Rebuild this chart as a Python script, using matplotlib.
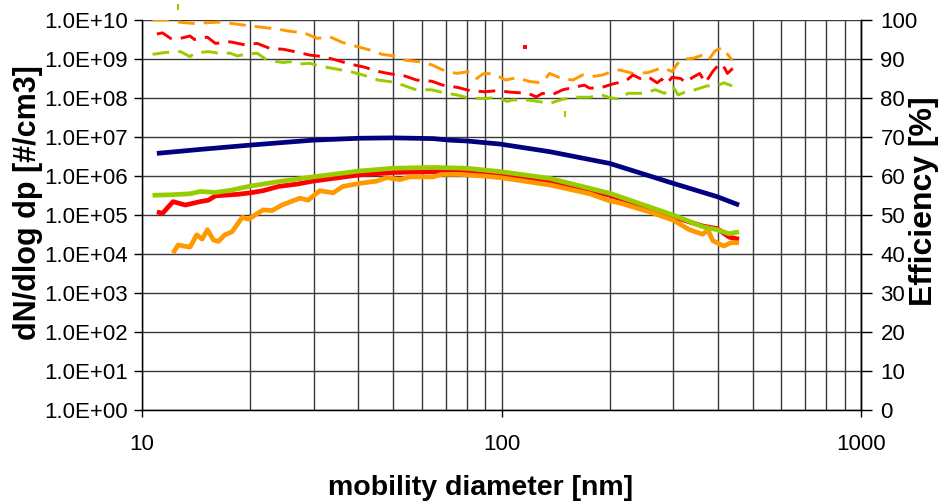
import matplotlib
matplotlib.use("Agg")
import matplotlib.pyplot as plt
from matplotlib.ticker import FixedLocator, FixedFormatter, NullFormatter

plt.rcParams['font.family'] = ['Liberation Sans', 'DejaVu Sans']
plt.rcParams['lines.scale_dashes'] = False

# ---------------- data ----------------
# Size distributions (left axis, dN/dlog dp)
navy_d = [11.0, 14.5, 20.0, 29.9, 40.4, 49.9, 64.5, 71.8, 80.1, 99.0, 136.2, 200, 300, 398, 458]
navy_n = [3.8e6, 4.8e6, 6.2e6, 8.3e6, 9.3e6, 9.5e6, 9.1e6, 8.3e6, 7.9e6, 6.6e6, 4.2e6, 2.1e6, 6.5e5, 2.95e5, 1.8e5]

green_d = [10.7, 12.0, 13.6, 14.5, 16.0, 17.6, 20.0, 24.0, 29.9, 40.4, 49.9, 64.5, 80.1, 99.0, 136.2, 200, 300, 363, 398, 430, 458]
green_n = [3.2e5, 3.3e5, 3.5e5, 4.0e5, 3.8e5, 4.3e5, 5.5e5, 7.2e5, 9.5e5, 1.35e6, 1.58e6, 1.66e6, 1.58e6, 1.3e6, 8.7e5, 3.6e5, 1.0e5, 5.0e4, 4.2e4, 3.3e4, 3.7e4]

red_d = [11.0, 11.4, 12.2, 13.2, 14.5, 15.3, 16.0, 18.5, 20.0, 21.7, 24.0, 27.0, 29.9, 40.4, 49.9, 64.5, 80.1, 99.0, 136.2, 200, 300, 363, 398, 430, 458]
red_n = [1.2e5, 1.1e5, 2.2e5, 1.8e5, 2.2e5, 2.4e5, 3.1e5, 3.4e5, 3.7e5, 4.2e5, 5.4e5, 6.2e5, 7.4e5, 1.07e6, 1.23e6, 1.29e6, 1.23e6, 1.0e6, 7.5e5, 3.2e5, 9.0e4, 5.2e4, 4.5e4, 2.7e4, 2.4e4]

orange_d = [12.2, 12.6, 13.6, 14.2, 14.7, 15.2, 15.8, 16.3, 17.0, 17.8, 19.0, 19.8, 21.7, 23.0, 24.5, 27.5, 29.0, 31.2, 34.0, 36.2, 40.4, 45.0, 48.0, 52.2, 55.6, 64.5, 68.0, 76.7, 88.8, 99.0, 136.2, 176, 200, 215, 258, 300, 333, 363, 375, 387, 415, 435, 458]
orange_n = [1.05e4, 1.7e4, 1.5e4, 3.1e4, 2.4e4, 4.2e4, 2.3e4, 2.1e4, 3.1e4, 3.7e4, 8.7e4, 7.8e4, 1.35e5, 1.3e5, 1.8e5, 2.7e5, 2.4e5, 4.2e5, 3.7e5, 5.4e5, 6.5e5, 7.4e5, 9.1e5, 8.1e5, 9.5e5, 9.5e5, 1.1e6, 1.1e6, 1.0e6, 9.1e5, 5.9e5, 3.5e5, 2.3e5, 2.0e5, 1.2e5, 7.4e4, 4.2e4, 3.2e4, 4.2e4, 2.2e4, 1.6e4, 1.95e4, 1.95e4]

# Efficiencies (right axis, %)
orange_eff_d = [10.7, 11.7, 12.8, 14.0, 15.2, 16.7, 18.1, 20.0, 21.7, 23.7, 25.8, 28.4, 30.7, 33.3, 36.2, 39.6, 43.1, 46.5, 49.9, 53.9, 59.3, 64.0, 68.6, 75.0, 81.6, 85.4, 88.8, 94.8, 102.5, 110.3, 120, 130, 136, 147, 158, 168, 179, 191, 203, 213, 232, 255, 281, 298, 315, 342, 362, 376, 393, 411, 438]
orange_eff = [100.0, 100.0, 99.4, 99.1, 99.3, 99.5, 99.0, 98.5, 98.1, 97.7, 97.1, 96.6, 95.3, 95.7, 94.2, 93.2, 92.3, 91.2, 90.8, 89.7, 89.3, 88.5, 87.2, 86.3, 86.8, 85.0, 86.2, 86.3, 84.6, 85.2, 84.2, 83.9, 86.3, 85.0, 84.6, 85.9, 85.5, 85.9, 86.8, 87.2, 86.3, 86.5, 87.8, 86.8, 89.9, 90.2, 91.0, 89.7, 92.1, 93.0, 89.7]

red_eff_d = [11.0, 11.4, 12.0, 12.8, 13.6, 14.0, 15.2, 16.0, 17.6, 19.4, 20.9, 22.7, 24.7, 27.2, 29.3, 31.9, 34.8, 37.9, 41.2, 45.4, 49.0, 53.2, 58.1, 64.0, 68.6, 75.6, 81.6, 89.8, 97.7, 105.7, 118.5, 125, 130, 138, 148, 162, 170, 176, 190, 204, 222, 232, 243, 255, 271, 279, 288, 298, 315, 326, 339, 356, 369, 387, 405, 418, 425, 440]
red_eff = [96.4, 96.7, 95.3, 95.3, 95.9, 95.0, 95.6, 94.0, 94.4, 93.6, 94.0, 92.7, 92.5, 91.7, 91.0, 90.6, 89.7, 88.7, 88.0, 86.8, 86.2, 85.8, 84.6, 84.3, 83.3, 82.7, 81.9, 81.6, 81.9, 81.5, 81.2, 80.3, 81.2, 80.8, 82.1, 82.9, 83.3, 82.5, 82.7, 83.6, 84.4, 85.9, 85.0, 85.5, 83.9, 84.8, 83.6, 85.3, 85.0, 83.9, 85.2, 86.3, 83.9, 86.8, 88.9, 87.6, 86.3, 87.6]

green_eff_d = [10.7, 11.7, 12.8, 13.6, 14.0, 15.3, 16.3, 17.6, 18.4, 19.4, 20.9, 22.3, 24.7, 25.8, 27.2, 29.3, 31.2, 34.8, 37.9, 41.2, 45.4, 49.0, 53.2, 57.4, 64.0, 68.6, 75.0, 81.6, 89.8, 97.7, 103.7, 107, 117, 125, 136, 148, 162, 176, 190, 198, 212, 225, 247, 268, 284, 300, 310, 326, 345, 373, 398, 415, 438]
green_eff = [91.2, 91.7, 91.9, 90.6, 91.5, 91.9, 91.5, 91.5, 90.8, 91.2, 91.5, 89.7, 89.1, 89.3, 88.7, 88.9, 88.2, 87.4, 86.8, 85.9, 84.6, 84.2, 83.3, 82.2, 82.1, 81.4, 80.8, 79.9, 79.9, 80.1, 79.1, 79.5, 79.5, 79.2, 78.6, 79.7, 80.2, 80.2, 80.8, 80.2, 79.7, 81.2, 81.2, 82.1, 81.2, 82.9, 80.8, 81.6, 82.1, 83.1, 83.1, 83.9, 83.1]

# isolated stray points (right axis)
red_dot_d, red_dot_e = [116], [93.0]
green_dot_d, green_dot_e = [150, 12.6], [75.9, 103.4]

y_ticks = [1e0, 1e1, 1e2, 1e3, 1e4, 1e5, 1e6, 1e7, 1e8, 1e9, 1e10]
y_labels = ['1.0E+00', '1.0E+01', '1.0E+02', '1.0E+03', '1.0E+04', '1.0E+05',
            '1.0E+06', '1.0E+07', '1.0E+08', '1.0E+09', '1.0E+10']
x_ticks = [10, 100, 1000]
x_labels = ['10', '100', '1000']
x_minor = [20, 30, 40, 50, 60, 70, 80, 90, 200, 300, 400, 500, 600, 700, 800, 900]
r_ticks = [0, 10, 20, 30, 40, 50, 60, 70, 80, 90, 100]

NAVY, GREEN, RED, ORANGE = '#000080', '#99CC00', '#FF0000', '#FF9900'

# ---------------- figure ----------------
W, H = 939, 503
fig = plt.figure(figsize=(W/100, H/100), dpi=100)
ax = fig.add_axes([142/W, 1-410/H, (861-142)/W, (410-20)/H])
ax.set_xscale('log')
ax.set_yscale('log')
ax.set_xlim(10, 1000)
ax.set_ylim(1, 1e10)

ax.xaxis.set_major_locator(FixedLocator(x_ticks))
ax.xaxis.set_major_formatter(FixedFormatter(x_labels))
ax.xaxis.set_minor_locator(FixedLocator(x_minor))
ax.xaxis.set_minor_formatter(NullFormatter())
ax.yaxis.set_major_locator(FixedLocator(y_ticks))
ax.yaxis.set_major_formatter(FixedFormatter(y_labels))
ax.yaxis.set_minor_locator(FixedLocator([]))

gridc = '#3a3a3a'
ax.grid(True, which='major', axis='both', color=gridc, lw=1.0)
ax.grid(True, which='minor', axis='x', color=gridc, lw=1.0)
ax.set_axisbelow(True)

ax.tick_params(axis='y', which='major', direction='out', length=6, width=1, labelsize=16, pad=4)
ax.tick_params(axis='x', which='major', direction='out', length=5, width=1, labelsize=16, pad=12)
ax.tick_params(axis='x', which='minor', length=0)
for s in ['left', 'bottom', 'right']:
    ax.spines[s].set_color('black')
    ax.spines[s].set_linewidth(1.0)
ax.spines['top'].set_visible(False)

lw_solid = 3.4
ax.plot(navy_d, navy_n, color=NAVY, lw=lw_solid, solid_capstyle='butt', zorder=3)
ax.plot(red_d, red_n, color=RED, lw=lw_solid, solid_capstyle='butt', zorder=3)
ax.plot(orange_d, orange_n, color=ORANGE, lw=lw_solid, solid_capstyle='butt', zorder=3)
ax.plot(green_d, green_n, color=GREEN, lw=lw_solid, solid_capstyle='butt', zorder=3)

ax2 = ax.twinx()
ax2.set_ylim(0, 100)
ax2.yaxis.set_major_locator(FixedLocator(r_ticks))
ax2.tick_params(axis='y', direction='out', length=8, width=1, labelsize=16, pad=6)
ax2.spines['top'].set_visible(False)
ax2.spines['right'].set_linewidth(1.0)

dash = (12, 6.5)
ax2.plot(orange_eff_d, orange_eff, color=ORANGE, lw=2.1, dashes=dash)
ax2.plot(red_eff_d, red_eff, color=RED, lw=2.1, dashes=dash)
ax2.plot(green_eff_d, green_eff, color=GREEN, lw=2.1, dashes=dash)
ax2.plot(red_dot_d, red_dot_e, 's', color=RED, ms=2.4, mew=0)
ax2.plot(green_dot_d, green_dot_e, '|', color=GREEN, ms=4, mew=1.5, clip_on=False)

# axis titles
fig.text(481/W, 1-488/H, 'mobility diameter [nm]', fontsize=20.5, fontweight='bold',
         ha='center', va='center')
fig.text(28/W, 1-203/H, 'dN/dlog dp [#/cm3]', fontsize=22, fontweight='bold',
         ha='center', va='center', rotation=90)
fig.text(924/W, 1-201/H, 'Efficiency [%]', fontsize=23, fontweight='bold',
         ha='center', va='center', rotation=90)

fig.savefig('out.png', dpi=100)
